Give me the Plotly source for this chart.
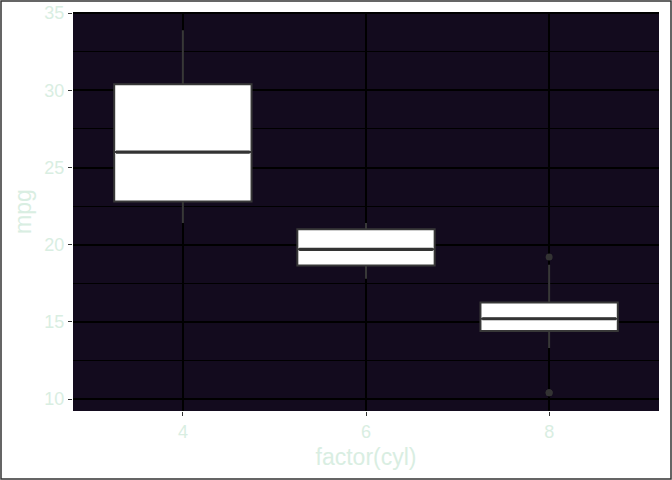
import numpy as np
import plotly.graph_objects as go

# mtcars mpg grouped by cylinders
cyl_labels = ["4", "6", "8"]
mpg_4 = [22.8, 24.4, 22.8, 32.4, 30.4, 33.9, 21.5, 27.3, 26.0, 30.4, 21.4]
mpg_6 = [21.0, 21.0, 21.4, 18.1, 19.2, 17.8, 19.7]
mpg_8 = [18.7, 14.3, 16.4, 17.3, 15.2, 10.4, 10.4, 14.7, 15.5, 15.2, 13.3, 19.2, 15.8, 15.0]
groups = [mpg_4, mpg_6, mpg_8]
y_ticks = [10, 15, 20, 25, 30, 35]

TEXT = "#d9eee2"
BG = "#130b1e"
W, H = 672, 480
ML, MR, MT, MB = 73, 13, 12, 69
BOXW = 0.75

fig = go.Figure()
out_x, out_y = [], []
for i, vals in enumerate(groups):
    v = np.array(vals)
    q1, med, q3 = np.percentile(v, [25, 50, 75])
    iqr = q3 - q1
    lo = v[v >= q1 - 1.5 * iqr].min()
    hi = v[v <= q3 + 1.5 * iqr].max()
    for o in v[(v < lo) | (v > hi)]:
        out_x.append(i + 1)
        out_y.append(float(o))
    fig.add_trace(go.Box(
        x=[i + 1], q1=[q1], median=[med], q3=[q3],
        lowerfence=[lo], upperfence=[hi],
        width=BOXW, whiskerwidth=0,
        fillcolor="white",
        line=dict(color="#383838", width=2),
        boxpoints=False, showlegend=False, hoverinfo="skip",
    ))
    # thicker median line as in ggplot
    fig.add_trace(go.Scatter(
        x=[i + 1 - BOXW / 2 + 0.01, i + 1 + BOXW / 2 - 0.01], y=[med, med],
        mode="lines", line=dict(color="#333333", width=3.2),
        showlegend=False, hoverinfo="skip",
    ))

fig.add_trace(go.Scatter(
    x=out_x, y=out_y, mode="markers",
    marker=dict(color="#333333", size=7),
    showlegend=False, hoverinfo="skip",
))

pw = W - ML - MR
ph = H - MT - MB
fig.add_shape(
    type="rect", xref="paper", yref="paper",
    x0=(1 - ML) / pw, x1=(W - 1 - ML) / pw,
    y0=-(MB - 1) / ph, y1=1 + (MT - 1) / ph,
    line=dict(color="#333333", width=1.5), fillcolor="rgba(0,0,0,0)", layer="above",
)

fig.update_layout(
    width=W, height=H,
    margin=dict(l=ML, r=MR, t=MT, b=MB, autoexpand=False),
    paper_bgcolor="white", plot_bgcolor=BG,
    font=dict(family="Liberation Sans, Arial, sans-serif", color=TEXT, size=18),
    showlegend=False,
)
fig.update_xaxes(
    range=[0.4, 3.6], tickmode="array", tickvals=[1, 2, 3], ticktext=cyl_labels,
    showgrid=True, gridcolor="black", gridwidth=2, zeroline=False, automargin=False,
    ticks="outside", ticklen=4, tickcolor="#333333", tickwidth=1,
    tickfont=dict(size=18, color=TEXT),
    title=dict(text="factor(cyl)", font=dict(size=23, color=TEXT), standoff=8),
)
fig.update_yaxes(
    range=[9.225, 35.075], tickmode="array", tickvals=y_ticks,
    showgrid=True, gridcolor="black", gridwidth=2, zeroline=False, automargin=False,
    minor=dict(dtick=2.5, tick0=7.5, showgrid=True, gridcolor="black", gridwidth=1),
    ticks="outside", ticklen=4, tickcolor="#333333", tickwidth=1,
    tickfont=dict(size=18, color=TEXT),
    title=dict(text="mpg", font=dict(size=23, color=TEXT), standoff=6),
)

fig.write_html("out.html")
